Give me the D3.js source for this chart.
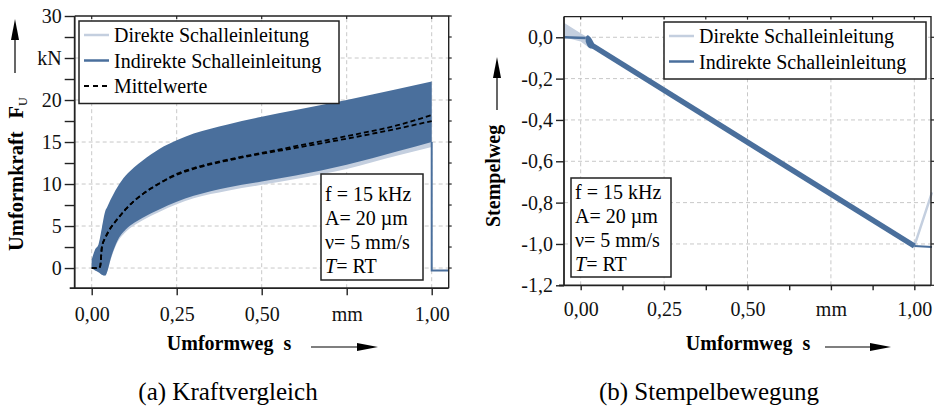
<!DOCTYPE html>
<html>
<head>
<meta charset="utf-8">
<script src="https://cdnjs.cloudflare.com/ajax/libs/d3/7.8.5/d3.min.js"></script>
<style>
body { margin: 0; background: #fff; }
text { font-family: "Liberation Serif", serif; }
</style>
</head>
<body>
<div id="chart"></div>
<script>
// ---- data (a) Kraftvergleich ----
var forceS    = [0, 0.01, 0.02, 0.03, 0.04, 0.045, 0.055, 0.075, 0.1, 0.125, 0.15, 0.2, 0.25, 0.3, 0.4, 0.5, 0.6, 0.75, 0.9, 1.0];
var indUpper  = [1.0, 2.2, 2.8, 4.8, 6.8, 7.2, 8.1, 9.6, 11.0, 12.0, 12.8, 14.2, 15.2, 16.0, 17.1, 18.0, 18.8, 20.0, 21.3, 22.2];
var indLower  = [0.0, -0.3, -0.5, -0.8, -0.9, -0.5, 1.0, 3.2, 4.6, 5.4, 6.0, 7.0, 7.9, 8.6, 9.6, 10.3, 11.0, 12.3, 13.9, 15.0];
var dirUpper  = [0.8, 2.0, 2.6, 4.5, 6.5, 7.0, 7.8, 9.3, 10.7, 11.7, 12.5, 13.9, 14.9, 15.7, 16.8, 17.7, 18.5, 19.7, 21.0, 21.8];
var dirLower  = [0.0, -0.3, -0.5, -0.8, -0.9, -0.5, 0.9, 3.0, 4.3, 5.1, 5.7, 6.7, 7.6, 8.3, 9.2, 9.9, 10.6, 11.8, 13.4, 14.4];
var meanS     = [0, 0.02, 0.025, 0.03, 0.04, 0.05, 0.075, 0.1, 0.125, 0.15, 0.2, 0.25, 0.3, 0.4, 0.5, 0.6, 0.75, 0.9, 1.0];
var meanInd   = [0, 0, 0.2, 2.5, 3.6, 4.4, 5.8, 7.0, 8.0, 8.8, 10.1, 11.2, 11.9, 12.9, 13.7, 14.5, 15.7, 17.0, 18.2];
var meanDir   = [0, 0, 0.2, 2.5, 3.6, 4.4, 5.8, 7.0, 8.0, 8.8, 10.1, 11.1, 11.8, 12.8, 13.6, 14.3, 15.4, 16.6, 17.5];
var dropS     = [1.0, 1.0, 1.05];
var dropF     = [15.0, -0.3, -0.3];
var forceTicks = [0, 2.5, 5, 7.5, 10, 12.5, 15, 17.5, 20, 22.5, 25, 27.5, 30];
var forceLabels = {0: "0", 5: "5", 10: "10", 15: "15", 20: "20", 25: "kN", 30: "30"};

// ---- data (b) Stempelbewegung ----
var dirStartS  = [-0.05, 0.0, 0.02, 0.04];
var dirStartHi = [0.07, 0.02, 0.0, -0.03];
var dirStartLo = [0.0, -0.02, -0.045, -0.05];
var dirRampS   = [0.03, 1.0, 1.053];
var dirRampV   = [-0.035, -1.01, -0.75];
var indFlatS   = [-0.05, 0.015];
var indFlatV   = [0.0, -0.003];
var blobS      = [0.015, 0.02, 0.03, 0.04];
var blobHi     = [0.0, 0.015, 0.002, -0.03];
var blobLo     = [-0.02, -0.045, -0.058, -0.05];
var indRampS   = [0.03, 1.0];
var indRampV   = [-0.035, -1.01];
var indEndS    = [1.0, 1.053];
var indEndV    = [-1.01, -1.015];
var wegTicks   = [0.0, -0.2, -0.4, -0.6, -0.8, -1.0, -1.2];

var sTicks = [0, 0.25, 0.5, 0.75, 1.0];
var sLabels = ["0,00", "0,25", "0,50", "mm", "1,00"];
var sMinor = [0, 0.125, 0.25, 0.375, 0.5, 0.625, 0.75, 0.875, 1.0];
var info = ["f = 15 kHz", "A= 20 \u00b5m", "\u03bd= 5 mm/s", "T= RT"];

var colLight = "#c4cfdf", colDark = "#4a6f9c", frame = "#222";

var svg = d3.select("#chart").append("svg")
            .attr("width", 935)
            .attr("height", 409);

function arrow(g, x1, y1, x2, y2) {
  var ang = Math.atan2(y2 - y1, x2 - x1), L = 21, W = 4;
  var bx = x2 - L * Math.cos(ang), by = y2 - L * Math.sin(ang);
  g.append("line").attr("x1", x1).attr("y1", y1).attr("x2", bx).attr("y2", by)
    .attr("stroke", "#000").attr("stroke-width", 1.2);
  g.append("path")
    .attr("d", "M" + x2 + "," + y2 + "L" + (bx - W * Math.sin(ang)) + "," + (by + W * Math.cos(ang)) +
               "L" + (bx + W * Math.sin(ang)) + "," + (by - W * Math.cos(ang)) + "Z")
    .attr("fill", "#000");
}

function drawFrame(x, y, yt, xMinor, yLen, xLen, yLabel) {
  var g = svg.append("g");
  var x0 = x.range()[0], x1 = x.range()[1], y0 = y.range()[0], y1 = y.range()[1];
  g.append("g").attr("transform", "translate(" + x0 + ",0)")
    .call(d3.axisLeft(y).tickValues(yt).tickSize(yLen).tickSizeOuter(0).tickPadding(3).tickFormat(yLabel));
  g.append("g").attr("transform", "translate(0," + y0 + ")")
    .call(d3.axisBottom(x).tickValues(xMinor).tickSize(xLen).tickSizeOuter(0).tickPadding(12)
      .tickFormat(d => { var i = sTicks.indexOf(d); return i < 0 ? "" : sLabels[i]; }));
  // right + top border ticks
  g.selectAll(".rt").data(yt).enter().append("line")
    .attr("x1", x1).attr("x2", x1 + 3).attr("y1", d => y(d)).attr("y2", d => y(d))
    .attr("stroke", frame).attr("stroke-width", 1.2);
  g.selectAll(".tt").data(xMinor).enter().append("line")
    .attr("x1", d => x(d)).attr("x2", d => x(d)).attr("y1", y1).attr("y2", y1 + 3)
    .attr("stroke", frame).attr("stroke-width", 1.2);
  g.selectAll(".domain").remove();
  g.selectAll(".tick line").attr("stroke", frame).attr("stroke-width", 1.4);
  g.selectAll(".tick text").attr("font-size", 20).attr("fill", "#111")
    .style("font-family", "Liberation Serif");
  g.append("path")
    .attr("d", "M" + x0 + "," + y1 + "H" + x1 + "V" + y0)
    .attr("fill", "none").attr("stroke", frame).attr("stroke-width", 1.4);
  g.append("line").attr("x1", x0).attr("x2", x0).attr("y1", y1).attr("y2", y0)
    .attr("stroke", frame).attr("stroke-width", 1.8);
  g.append("line").attr("x1", x0 - 5).attr("x2", x1).attr("y1", y0).attr("y2", y0)
    .attr("stroke", frame).attr("stroke-width", 1.8);
  return g;
}

function grid(x, y, xt, yt) {
  var g = svg.append("g");
  g.selectAll("line.gx").data(xt).enter().append("line")
    .attr("x1", d => x(d)).attr("x2", d => x(d)).attr("y1", y.range()[0]).attr("y2", y.range()[1])
    .attr("stroke", "#c8c8c8").attr("stroke-dasharray", "4,3");
  g.selectAll("line.gy").data(yt).enter().append("line")
    .attr("x1", x.range()[0]).attr("x2", x.range()[1]).attr("y1", d => y(d)).attr("y2", d => y(d))
    .attr("stroke", "#c8c8c8").attr("stroke-dasharray", "4,3");
}

function infoBox(x0, y0, w, h, base) {
  var g = svg.append("g");
  g.append("rect").attr("x", x0).attr("y", y0).attr("width", w).attr("height", h)
    .attr("fill", "#fff").attr("stroke", frame).attr("stroke-width", 1.5);
  info.forEach((t, i) => {
    var tx = g.append("text").attr("x", x0 + 4).attr("y", base + i * 24.3).attr("font-size", 20);
    if (t.charAt(0) == "T") {
      tx.append("tspan").attr("font-style", "italic").text("T");
      tx.append("tspan").text(t.slice(1));
    } else tx.text(t);
  });
}

function legend(x0, y0, w, rows) {
  var g = svg.append("g");
  g.append("rect").attr("x", x0).attr("y", y0).attr("width", w).attr("height", rows.length * 25.5 + 6)
    .attr("fill", "#fff").attr("stroke", frame).attr("stroke-width", 1.5);
  rows.forEach((r, i) => {
    var cy = y0 + 14 + i * 25.5;
    g.append("line").attr("x1", x0 + 5).attr("x2", x0 + 30).attr("y1", cy).attr("y2", cy)
      .attr("stroke", r.c).attr("stroke-width", r.dash ? 1.8 : 2.5)
      .attr("stroke-dasharray", r.dash ? "5,4" : null);
    g.append("text").attr("x", x0 + 35).attr("y", cy + 7).attr("font-size", 20).text(r.t);
  });
}

// ================= (a) Kraftvergleich =================
var xA = d3.scaleLinear().domain([-0.05, 1.05]).range([74.7, 448.7]);
var yA = d3.scaleLinear().domain([-2.4, 30]).range([288.2, 16]);
grid(xA, yA, sTicks, [0, 5, 10, 15, 20, 25]);

var bandA = (lo, hi) => d3.area().curve(d3.curveMonotoneX)
  .x((d, i) => xA(forceS[i])).y0((d, i) => yA(lo[i])).y1((d, i) => yA(hi[i]));
svg.append("path").datum(forceS).attr("d", bandA(dirLower, dirUpper)).attr("fill", colLight);
svg.append("path").datum(forceS).attr("d", bandA(indLower, indUpper)).attr("fill", colDark);
svg.append("path").datum(dropS)
  .attr("d", d3.line().x(d => xA(d)).y((d, i) => yA(dropF[i])))
  .attr("fill", "none").attr("stroke", colDark).attr("stroke-width", 2);
[meanInd, meanDir].forEach(m => {
  svg.append("path").datum(meanS)
    .attr("d", d3.line().curve(d3.curveMonotoneX).x(d => xA(d)).y((d, i) => yA(m[i])))
    .attr("fill", "none").attr("stroke", "#000").attr("stroke-width", 1.8).attr("stroke-dasharray", "5,3");
});

drawFrame(xA, yA, forceTicks, sTicks, 10, 7, d => forceLabels[d] || "");
legend(79, 21, 260, [{t: "Direkte Schalleinleitung", c: colLight},
                     {t: "Indirekte Schalleinleitung", c: colDark},
                     {t: "Mittelwerte", c: "#000", dash: true}]);
infoBox(321, 174, 102, 106, 200.5);

var ya = svg.append("text").attr("transform", "translate(23,251) rotate(-90)")
  .attr("font-size", 20.5).attr("font-weight", "bold");
ya.append("tspan").text("Umformkraft");
ya.append("tspan").attr("dx", 13).text("F");
ya.append("tspan").attr("font-size", 12).attr("font-weight", "normal").attr("dy", 4).text("U");
arrow(svg, 15, 73, 15, 19);

svg.append("text").attr("x", 229).attr("y", 350).attr("text-anchor", "middle")
  .attr("font-size", 20).attr("font-weight", "bold").attr("xml:space", "preserve").text("Umformweg  s");
arrow(svg, 311, 347, 378, 347);
svg.append("text").attr("x", 228).attr("y", 400).attr("text-anchor", "middle")
  .attr("font-size", 25).text("(a) Kraftvergleich");

// ================= (b) Stempelbewegung =================
var xB = d3.scaleLinear().domain([-0.05, 1.05]).range([564, 931]);
var yB = d3.scaleLinear().domain([-1.2, 0.1]).range([285.3, 16.6]);
grid(xB, yB, sTicks, [0, -0.2, -0.4, -0.6, -0.8, -1.0]);

svg.append("path").datum(dirStartS)
  .attr("d", d3.area().x(d => xB(d)).y0((d, i) => yB(dirStartLo[i])).y1((d, i) => yB(dirStartHi[i])))
  .attr("fill", colLight);
svg.append("path").datum(dirRampS)
  .attr("d", d3.line().x(d => xB(d)).y((d, i) => yB(dirRampV[i])))
  .attr("fill", "none").attr("stroke", colLight).attr("stroke-width", 2.5);
svg.append("path").datum(indFlatS)
  .attr("d", d3.line().x(d => xB(d)).y((d, i) => yB(indFlatV[i])))
  .attr("fill", "none").attr("stroke", colDark).attr("stroke-width", 2.5);
svg.append("path").datum(blobS)
  .attr("d", d3.area().curve(d3.curveBasis).x(d => xB(d)).y0((d, i) => yB(blobLo[i])).y1((d, i) => yB(blobHi[i])))
  .attr("fill", colDark);
svg.append("path").datum(indRampS)
  .attr("d", d3.line().x(d => xB(d)).y((d, i) => yB(indRampV[i])))
  .attr("fill", "none").attr("stroke", colDark).attr("stroke-width", 5.5);
svg.append("path").datum(indEndS)
  .attr("d", d3.line().x(d => xB(d)).y((d, i) => yB(indEndV[i])))
  .attr("fill", "none").attr("stroke", colDark).attr("stroke-width", 2);

drawFrame(xB, yB, wegTicks, sMinor, 8, 5, d => d.toFixed(1).replace(".", ","));
legend(664, 22, 262, [{t: "Direkte Schalleinleitung", c: colLight},
                      {t: "Indirekte Schalleinleitung", c: colDark}]);
infoBox(571, 178, 100, 99, 198.5);

svg.append("text").attr("transform", "translate(500,227) rotate(-90)")
  .attr("font-size", 20).attr("font-weight", "bold").text("Stempelweg");
arrow(svg, 497, 110, 497, 57);

svg.append("text").attr("x", 748).attr("y", 350).attr("text-anchor", "middle")
  .attr("font-size", 20).attr("font-weight", "bold").attr("xml:space", "preserve").text("Umformweg  s");
arrow(svg, 825, 347, 891, 347);
svg.append("text").attr("x", 709).attr("y", 400).attr("text-anchor", "middle")
  .attr("font-size", 25).text("(b) Stempelbewegung");
</script>
</body>
</html>
